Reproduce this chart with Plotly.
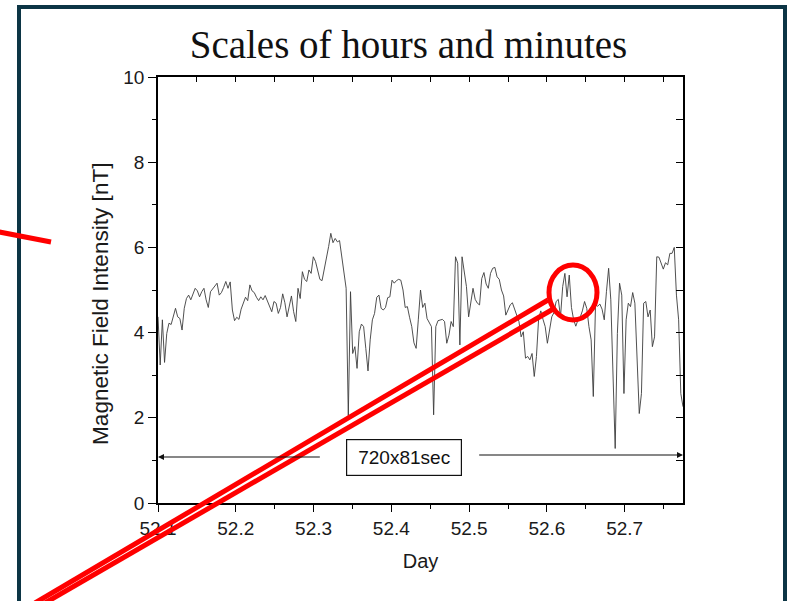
import plotly.graph_objects as go

# ---------------- data ----------------
field_nT = [
    4.37, 3.24, 4.30, 3.30, 3.98, 4.22, 4.19, 4.41, 4.57, 4.37,
    4.33, 4.06, 4.57, 4.80, 4.88, 4.77, 4.92, 5.04, 4.98, 4.84,
    4.96, 5.04, 4.77, 4.59, 4.96, 5.02, 5.10, 5.16, 4.88, 4.94,
    5.06, 5.20, 5.04, 5.19, 4.53, 4.28, 4.36, 4.31, 4.55, 4.70,
    4.83, 4.75, 5.12, 4.98, 4.94, 4.83, 4.75, 4.84, 4.77, 4.87,
    4.75, 4.59, 4.49, 4.73, 4.69, 4.45, 4.59, 4.91, 4.70, 4.37,
    4.65, 4.86, 4.49, 4.26, 5.04, 4.80, 5.43, 5.25, 5.20, 5.47,
    5.39, 5.78, 5.67, 5.49, 5.25, 5.22, 5.47, 5.77, 6.02, 6.33,
    6.11, 6.21, 6.13, 6.16, 5.74, 5.35, 5.04, 2.05, 4.96, 3.51,
    3.67, 3.16, 4.02, 4.20, 4.14, 3.63, 3.10, 3.83, 4.30, 4.45,
    4.83, 4.88, 4.57, 4.53, 4.59, 4.82, 4.84, 5.23, 5.16, 5.22,
    5.25, 5.23, 5.00, 4.59, 4.61, 4.36, 4.14, 3.76, 3.63, 4.30,
    5.00, 4.59, 4.69, 4.33, 4.22, 4.14, 2.07, 4.14, 4.28, 4.30,
    4.31, 4.26, 3.75, 3.94, 4.26, 4.14, 5.78, 5.63, 3.71, 5.78,
    5.39, 5.08, 4.37, 4.73, 5.04, 4.78, 4.69, 4.65, 5.27, 5.41,
    5.14, 5.04, 5.39, 5.51, 5.53, 5.31, 5.25, 5.00, 4.86, 4.41,
    4.55, 4.65, 4.70, 4.55, 4.37, 4.26, 3.90, 4.02, 3.40, 3.44,
    3.36, 3.51, 2.97, 3.44, 4.33, 4.51, 4.31, 4.14, 3.75, 4.06,
    4.37, 4.47, 4.73, 4.78, 4.37, 5.08, 5.39, 4.84, 5.35, 4.59,
    4.30, 4.15, 4.30, 4.36, 4.51, 4.73, 4.57, 4.14, 3.83, 2.50,
    4.65, 4.62, 4.67, 4.55, 4.30, 4.96, 5.51, 4.77, 3.20, 1.28,
    3.98, 5.16, 4.88, 2.57, 4.30, 4.69, 4.61, 4.94, 4.69, 3.20,
    2.10, 2.57, 4.69, 4.73, 4.37, 4.53, 3.67, 3.90, 5.78, 5.77,
    5.63, 5.49, 5.64, 5.59, 5.86, 5.86, 6.00, 4.88, 4.30, 2.57,
    2.26,
]
day_start = 52.1
sample_seconds = 81          # one sample every 81 s ...
samples_per_point = 3        # ... every third sample listed here
day = [day_start + i * samples_per_point * sample_seconds / 86400.0
       for i in range(len(field_nT))]

x_range = [52.1, 52.775]
y_range = [0, 10]
x_tickvals = [52.1, 52.2, 52.3, 52.4, 52.5, 52.6, 52.7]
x_ticktext = ["52.1", "52.2", "52.3", "52.4", "52.5", "52.6", "52.7"]
y_tickvals = [0, 2, 4, 6, 8, 10]

title_text = "Scales of hours and minutes"
x_title = "Day"
y_title = "Magnetic Field Intensity [nT]"
span_label = "720x81sec"
span_label_pos = (52.416, 1.068)
span_left = (52.31, 1.08)     # tail of left arrow (data units)
span_right = (52.511, 1.127)  # tail of right arrow (data units)

# ---------------- layout geometry ----------------
W, H = 789, 601
L, R, T, B = 158, 683, 77, 503


def px2x(px):
    return (px - L) / (R - L)


def py2y(py):
    return (B - py) / (B - T)


SANS = "Liberation Sans, Arial, sans-serif"
SERIF = "Liberation Serif, Times New Roman, serif"

fig = go.Figure()
fig.add_trace(go.Scatter(
    x=day, y=field_nT, mode="lines",
    line=dict(color="#3c3c3c", width=0.9),
    showlegend=False, hoverinfo="skip"))
# empty trace so the mirrored (inward-tick) axes are drawn
fig.add_trace(go.Scatter(x=[], y=[], xaxis="x2", yaxis="y2",
                         showlegend=False, hoverinfo="skip"))

axis_common = dict(showgrid=False, zeroline=False)

fig.update_layout(
    width=W, height=H,
    margin=dict(l=L, r=W - R, t=T, b=H - B, pad=0),
    paper_bgcolor="white", plot_bgcolor="white",
    title=dict(text=title_text, x=408.5 / W, xref="container", xanchor="center",
               y=1 - 44 / H, yref="container", yanchor="middle",
               font=dict(family=SERIF, size=39, color="#111111")),
    xaxis=dict(range=x_range, tickvals=x_tickvals, ticktext=x_ticktext,
               ticks="outside", ticklen=7, tickwidth=1.3, tickcolor="black",
               showline=True, linecolor="black", linewidth=1.5, mirror=True,
               minor=dict(dtick=0.05, tick0=52.1, ticks="outside", ticklen=4,
                          tickwidth=1.2, tickcolor="black"),
               tickfont=dict(family=SANS, size=19, color="#1a1a1a"),
               title=dict(text=x_title, standoff=16,
                          font=dict(family=SANS, size=20, color="#1a1a1a")),
               **axis_common),
    yaxis=dict(range=y_range, tickvals=y_tickvals,
               ticks="outside", ticklen=8, tickwidth=1.3, tickcolor="black",
               showline=True, linecolor="black", linewidth=1.5, mirror=True,
               minor=dict(dtick=1, ticks="outside", ticklen=4,
                          tickwidth=1.2, tickcolor="black"),
               tickfont=dict(family=SANS, size=19, color="#1a1a1a"),
               **axis_common),
    xaxis2=dict(range=x_range, overlaying="x", side="top", anchor="y",
                tickvals=x_tickvals, showticklabels=False,
                ticks="inside", ticklen=5, tickwidth=1.2, tickcolor="black",
                minor=dict(dtick=0.05, tick0=52.1, ticks="inside", ticklen=5,
                           tickwidth=1.2, tickcolor="black"),
                showline=False, **axis_common),
    yaxis2=dict(range=y_range, overlaying="y", side="right", anchor="x",
                tickvals=y_tickvals, showticklabels=False,
                ticks="inside", ticklen=7, tickwidth=1.2, tickcolor="black",
                minor=dict(dtick=1, ticks="inside", ticklen=7,
                           tickwidth=1.2, tickcolor="black"),
                showline=False, **axis_common),
)

# y-axis title (placed as text, slightly below the axis centre as in the slide)
fig.add_annotation(x=px2x(100), y=py2y(304), xref="paper", yref="paper",
                   text=y_title, textangle=-90, showarrow=False,
                   xanchor="center", yanchor="middle",
                   font=dict(family=SANS, size=22.6, color="#1a1a1a"))

# span annotation: label box and the two arrows
fig.add_annotation(
    x=span_label_pos[0], y=span_label_pos[1],
    xref="x", yref="y", text=span_label, showarrow=False,
    font=dict(family=SANS, size=19, color="#111111"),
    bordercolor="#111111", borderwidth=1.2, borderpad=5,
    width=104, height=25, bgcolor="white")
fig.add_annotation(x=x_range[0], y=span_left[1], ax=span_left[0], ay=span_left[1],
                   xref="x", yref="y", axref="x", ayref="y", text="",
                   showarrow=True, arrowhead=2, arrowsize=1, arrowwidth=1.2,
                   arrowcolor="#111111")
fig.add_annotation(x=x_range[1], y=span_right[1], ax=span_right[0], ay=span_right[1],
                   xref="x", yref="y", axref="x", ayref="y", text="",
                   showarrow=True, arrowhead=2, arrowsize=1, arrowwidth=1.2,
                   arrowcolor="#111111")

# slide decorations: dark frame and red call-out marks (pixel positions)
FRAME = dict(x0=19, x1=785, y0=640, y1=7)
fig.add_shape(type="rect", xref="paper", yref="paper", layer="above",
              x0=px2x(FRAME["x0"]), x1=px2x(FRAME["x1"]),
              y0=py2y(FRAME["y0"]), y1=py2y(FRAME["y1"]),
              line=dict(color="#0c3545", width=4))

RED = "#ff0000"
red_segments = [
    ((-3, 231.5), (51, 242)),
    ((548, 300), (35, 603)),
    ((555, 308), (45, 603)),
]
for (xa, ya), (xb, yb) in red_segments:
    fig.add_shape(type="line", xref="paper", yref="paper", layer="above",
                  x0=px2x(xa), y0=py2y(ya), x1=px2x(xb), y1=py2y(yb),
                  line=dict(color=RED, width=5))
fig.add_shape(type="circle", xref="paper", yref="paper", layer="above",
              x0=px2x(549), x1=px2x(597), y0=py2y(320), y1=py2y(265),
              line=dict(color=RED, width=5))

fig.write_html("out.html")
